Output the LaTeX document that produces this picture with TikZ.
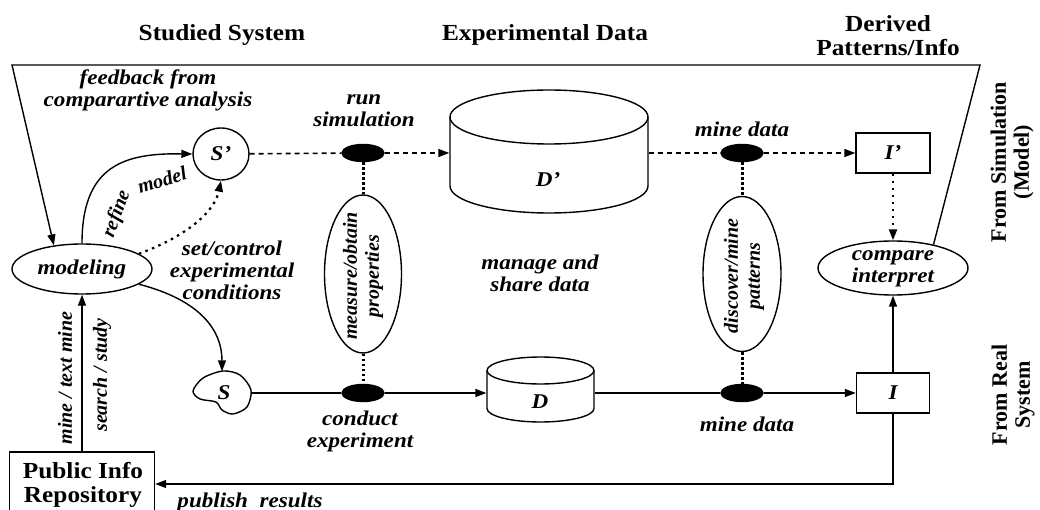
\documentclass[tikz,border=0pt]{standalone}
\usepackage{fontspec}
\setmainfont{Liberation Serif}[FakeStretch=1.1]
\newfontfamily\rotfont{Liberation Serif}
\usetikzlibrary{arrows.meta,shapes.geometric}
\begin{document}
\begin{tikzpicture}[x=1pt,y=-1pt, line width=1.4pt,
  ttl/.style={font=\bfseries\fontsize{23}{24}\selectfont, align=center, inner sep=0},
  lab/.style={font=\bfseries\itshape\fontsize{21}{22}\selectfont, align=center, inner sep=0},
  rlab/.style={font=\rotfont\bfseries\itshape\fontsize{20}{22}\selectfont, align=center, inner sep=0, rotate=90},
  slab/.style={font=\rotfont\bfseries\itshape\fontsize{20}{22}\selectfont, inner sep=0},
  rttl/.style={font=\rotfont\bfseries\fontsize{22}{23}\selectfont, align=center, inner sep=0, rotate=90},
  ell/.style={draw, ellipse, inner sep=0},
  blk/.style={draw, fill=black, ellipse, minimum width=42pt, minimum height=17pt, inner sep=0},
  box/.style={draw, rectangle, inner sep=0},
  arr/.style={-{Triangle[length=11pt,width=8pt]}},
  dsh/.style={dash pattern=on 5pt off 4pt, line width=1.6pt},
  dots/.style={dash pattern=on 2.5pt off 4.5pt, line width=2.2pt},
  vdots/.style={dash pattern=on 2.5pt off 2.5pt, line width=3pt},
]
\useasboundingbox (0,0) rectangle (1040,510);

% titles
\node[ttl] (t1) at (222,35) {Studied System};
\node[ttl] (t2) at (545,35) {Experimental Data};
\node[ttl] (t3) at (888,36) {Derived\\Patterns/Info};
\node[rttl] (r1) at (1012,162) {From Simulation\\(Model)};
\node[rttl] (r2) at (1013,395) {From Real\\System};

% modeling & systems
\node[ell, minimum width=140pt, minimum height=50pt] (mod) at (82,269) {};
\node[lab] (modt) at (mod) {modeling};
\node[ell, minimum width=56pt, minimum height=52pt] (Sp) at (221,154) {};
\node[lab] (Spt) at (Sp) {S'};
\node[draw=none, minimum width=58pt, minimum height=42pt, inner sep=0] (S) at (222,393) {};
\draw plot[smooth cycle] coordinates {(223,371) (240,375) (251,390) (247,407) (233,414) (222,410) (216,402) (200,399) (193,391) (203,378)};
\node[lab] (St) at (224,393) {S};

% public repository
\node[box, minimum width=145pt, minimum height=64pt] (pub) at (82,484) {};
\node[ttl] (pubt) at (83,485) {Public Info\\Repository};

% D' cylinder
\node[minimum width=198pt, minimum height=90pt, inner sep=0] (Dp) at (549,153) {};
\draw (549,117) ellipse [x radius=99pt, y radius=27pt];
\draw (450,117) -- (450,186) arc[start angle=180,end angle=360,x radius=99pt,y radius=27pt] -- (648,117);
\node[lab] (Dpt) at (548,180) {D'};

% D cylinder
\node[minimum width=107pt, minimum height=60pt, inner sep=0] (D) at (540.5,393) {};
\draw (540.5,370.5) ellipse [x radius=53.5pt, y radius=13.5pt];
\draw (487,370.5) -- (487,408.5) arc[start angle=180,end angle=360,x radius=53.5pt,y radius=13.5pt] -- (594,370.5);
\node[lab] (Dt) at (540,402) {D};

% black dots
\node[blk] (rs) at (363,153) {};
\node[blk] (ce) at (363,393) {};
\node[blk] (m1) at (742,153) {};
\node[blk] (m2) at (742,393) {};

% vertical ellipses
\node[ell, minimum width=77pt, minimum height=158pt] (meas) at (363,274) {};
\node[rlab] (meast) at (363,276) {measure/obtain\\properties};
\node[ell, minimum width=78pt, minimum height=155pt] (disc) at (742,274) {};
\node[rlab] (disct) at (744,276) {discover/mine\\patterns};

% info boxes
\node[box, minimum width=74pt, minimum height=40pt] (Ip) at (893,153) {};
\node[lab] (Ipt) at (Ip) {I'};
\node[box, minimum width=73pt, minimum height=40pt] (I) at (893,393) {};
\node[lab] (It) at (I) {I};
\node[ell, minimum width=150pt, minimum height=54pt] (cmp) at (893,268) {};
\node[lab] (cmpt) at (893,269) {compare\\interpret};

% labels
\node[lab] (l1) at (148,90) {feedback from\\comparartive analysis};
\node[lab] (l2) at (364,111) {run\\simulation};
\node[lab] (l3) at (742,129) {mine data};
\node[lab] (l4) at (232,270) {set/control\\experimental\\conditions};
\node[lab] (l5) at (540,273) {manage and\\share data};
\node[lab] (l6) at (360,431) {conduct\\experiment};
\node[lab] (l7) at (747,424) {mine data};
\node[lab] (l8) at (250,502) {publish\ \ results};
\node[rlab] (l9) at (65,378) {mine / text mine};
\node[rlab] (l10) at (102,375) {search / study};
\node[slab, rotate=70] (l11) at (117,214) {refine};
\node[slab, rotate=17] (l12) at (162,180) {model};

% feedback loop
\coordinate (fbL) at (12,65);
\coordinate (fbR) at (980,65);
\draw[arr] (cmp.30) -- (fbR) -- (fbL) -- (mod.140);

% modeling connectors
\draw[arr] (mod.north) .. controls (82,165) and (125,153) .. (Sp.west);
\draw[dots, arr] (mod.15) .. controls (190,235) and (215,210) .. (Sp.south);
\draw[arr] (mod.-15) .. controls (200,300) and (222,330) .. (S.north);

% simulation row
\draw[dsh] (Sp) -- (rs);
\draw[dsh, arr] (rs) -- (Dp.west);
\draw[dsh] (Dp.east) -- (m1);
\draw[dsh, arr] (m1) -- (Ip);
\draw[dots, arr] (Ip) -- (cmp);

% vertical dotted
\draw[vdots] (rs) -- (meas);
\draw[vdots] (meas) -- (ce);
\draw[vdots] (m1) -- (disc);
\draw[vdots] (disc) -- (m2);

% real row
\draw (S) -- (ce);
\draw[arr] (ce) -- (D.west);
\draw (D.east) -- (m2);
\draw[arr] (m2) -- (I);
\draw[arr] (I) -- (cmp);
\draw[arr] (I.south) |- (pub.east);
\draw[arr] (pub) -- (mod);
\end{tikzpicture}
\end{document}
